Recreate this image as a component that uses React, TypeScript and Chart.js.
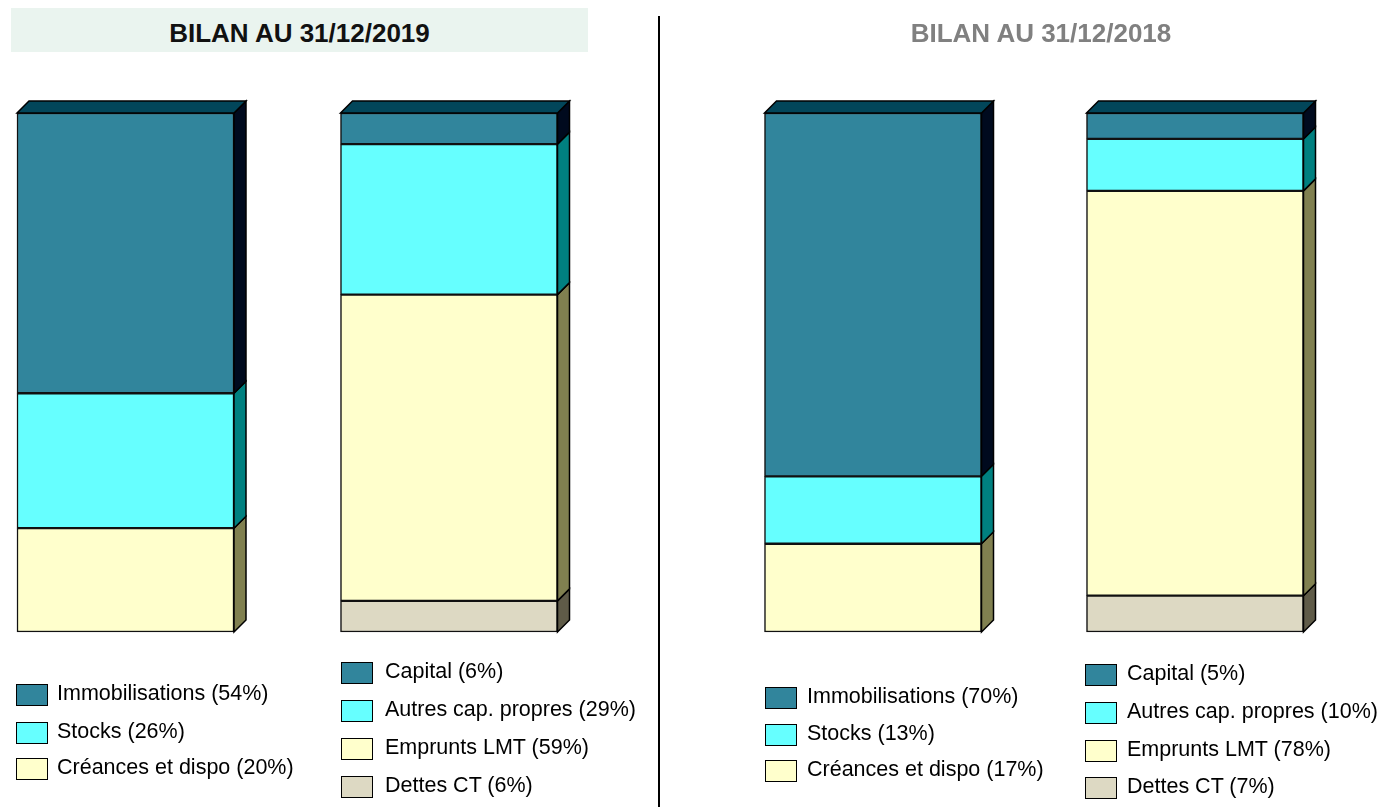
import React, { useEffect, useRef } from "react";
import { Chart, registerables } from "chart.js";

Chart.register(...registerables);

// ---- data ----
const titles = ["BILAN AU 31/12/2019", "BILAN AU 31/12/2018"];
const actifLabels = ["Immobilisations", "Stocks", "Créances et dispo"];
const passifLabels = ["Capital", "Autres cap. propres", "Emprunts LMT", "Dettes CT"];
const actif2019 = [54, 26, 20];
const passif2019 = [6, 29, 59, 6];
const actif2018 = [70, 13, 17];
const passif2018 = [5, 10, 78, 7];

// ---- styles ----
const actifFront = ["#31859C", "#66FFFF", "#FFFFCC"];
const actifSide = ["#000A1E", "#008080", "#808050"];
const passifFront = ["#31859C", "#66FFFF", "#FFFFCC", "#DDD9C3"];
const passifSide = ["#000A1E", "#008080", "#808050", "#5F5B48"];
const topFaceColor = "#02465A";

// ---- layout ----
const W = 1389;
const H = 807;
const columnX = [125.5, 449, 873, 1195]; // actif19, passif19, actif18, passif18
const BAR_W = 217;
const DEPTH = 12;

function buildDatasets() {
  const ds: any[] = [];
  // actif: bottom first
  for (let i = actifLabels.length - 1; i >= 0; i--) {
    ds.push({
      label: actifLabels[i],
      data: [
        { x: columnX[0], y: actif2019[i] },
        { x: columnX[2], y: actif2018[i] },
      ],
      backgroundColor: actifFront[i],
      sideColor: actifSide[i],
    });
  }
  for (let i = passifLabels.length - 1; i >= 0; i--) {
    ds.push({
      label: passifLabels[i],
      data: [
        { x: columnX[1], y: passif2019[i] },
        { x: columnX[3], y: passif2018[i] },
      ],
      backgroundColor: passifFront[i],
      sideColor: passifSide[i],
    });
  }
  return ds.map((d) => ({
    ...d,
    borderColor: "#111",
    borderWidth: 1.5,
    borderSkipped: false,
    barThickness: BAR_W,
    clip: false,
  }));
}

const depthPlugin = {
  id: "depth3d",
  afterDatasetsDraw(chart: any) {
    const ctx = chart.ctx;
    const tops = new Map<number, any>();
    chart.data.datasets.forEach((ds: any, di: number) => {
      const meta = chart.getDatasetMeta(di);
      meta.data.forEach((el: any) => {
        const p = el.getProps(["x", "y", "base", "width"], true);
        const left = p.x - p.width / 2;
        const right = p.x + p.width / 2;
        const top = Math.min(p.y, p.base);
        const bottom = Math.max(p.y, p.base);
        ctx.save();
        ctx.beginPath();
        ctx.moveTo(right, bottom);
        ctx.lineTo(right + DEPTH, bottom - DEPTH);
        ctx.lineTo(right + DEPTH, top - DEPTH);
        ctx.lineTo(right, top);
        ctx.closePath();
        ctx.fillStyle = ds.sideColor;
        ctx.fill();
        ctx.strokeStyle = "#000";
        ctx.lineWidth = 1.5;
        ctx.stroke();
        ctx.restore();
        const key = Math.round(p.x);
        const cur = tops.get(key);
        if (!cur || top < cur.top) tops.set(key, { top, left, right });
      });
    });
    tops.forEach((t) => {
      ctx.save();
      ctx.beginPath();
      ctx.moveTo(t.left, t.top);
      ctx.lineTo(t.left + DEPTH, t.top - DEPTH);
      ctx.lineTo(t.right + DEPTH, t.top - DEPTH);
      ctx.lineTo(t.right, t.top);
      ctx.closePath();
      ctx.fillStyle = topFaceColor;
      ctx.fill();
      ctx.strokeStyle = "#000";
      ctx.lineWidth = 1.5;
      ctx.stroke();
      ctx.restore();
    });
  },
};

type LegendSpec = {
  labels: string[];
  values: number[];
  colors: string[];
  left: number;
  textLeft: number;
  tops: number[];
};

const legends: LegendSpec[] = [
  { labels: actifLabels, values: actif2019, colors: actifFront, left: 16, textLeft: 57, tops: [684, 722, 758] },
  { labels: passifLabels, values: passif2019, colors: passifFront, left: 341, textLeft: 385, tops: [662, 700, 738, 776] },
  { labels: actifLabels, values: actif2018, colors: actifFront, left: 765, textLeft: 807, tops: [687, 724, 760] },
  { labels: passifLabels, values: passif2018, colors: passifFront, left: 1085, textLeft: 1127, tops: [664, 702, 740, 777] },
];

export default function App() {
  const canvasRef = useRef<HTMLCanvasElement>(null);

  useEffect(() => {
    if (!canvasRef.current) return;
    const chart = new Chart(canvasRef.current, {
      type: "bar",
      data: { datasets: buildDatasets() as any },
      options: {
        animation: false,
        responsive: false,
        maintainAspectRatio: false,
        devicePixelRatio: 1,
        layout: { padding: { top: 113, bottom: 175, left: 0, right: 0 } },
        plugins: { legend: { display: false }, tooltip: { enabled: false }, title: { display: false } },
        scales: {
          x: { type: "linear", min: 0, max: W, offset: false, stacked: true, display: false },
          y: { min: 0, max: 100, stacked: true, display: false },
        },
      },
      plugins: [depthPlugin],
    });
    return () => chart.destroy();
  }, []);

  const font = '"Liberation Sans", Arial, sans-serif';

  return (
    <div style={{ position: "absolute", left: 0, top: 0, width: W, height: H, background: "#fff", fontFamily: font, overflow: "hidden" }}>
      <canvas ref={canvasRef} width={W} height={H} style={{ position: "absolute", left: 0, top: 0 }} />
      {/* titles */}
      <div style={{ position: "absolute", left: 11, top: 8, width: 577, height: 44, background: "#EAF4EF", textAlign: "center", fontWeight: "bold", fontSize: 26, lineHeight: "44px", color: "#111" }}>
        <span style={{ position: "relative", top: 3 }}>{titles[0]}</span>
      </div>
      <div style={{ position: "absolute", left: 741, top: 8, width: 600, height: 44, textAlign: "center", fontWeight: "bold", fontSize: 26, lineHeight: "44px", color: "#808080" }}>
        <span style={{ position: "relative", top: 3 }}>{titles[1]}</span>
      </div>
      {/* divider */}
      <div style={{ position: "absolute", left: 658, top: 16, width: 2, height: H - 16, background: "#000" }} />
      {/* legends */}
      {legends.map((lg, li) =>
        lg.labels.map((lab, i) => (
          <React.Fragment key={li + "-" + i}>
            <div style={{ position: "absolute", left: lg.left, top: lg.tops[i], width: 32, height: 22, boxSizing: "border-box", border: "1.5px solid #000", background: lg.colors[i] }} />
            <div style={{ position: "absolute", left: lg.textLeft, top: lg.tops[i] - 2, height: 22, lineHeight: "22px", fontSize: 21.5, color: "#000", whiteSpace: "nowrap" }}>
              {`${lab} (${lg.values[i]}%)`}
            </div>
          </React.Fragment>
        ))
      )}
    </div>
  );
}
